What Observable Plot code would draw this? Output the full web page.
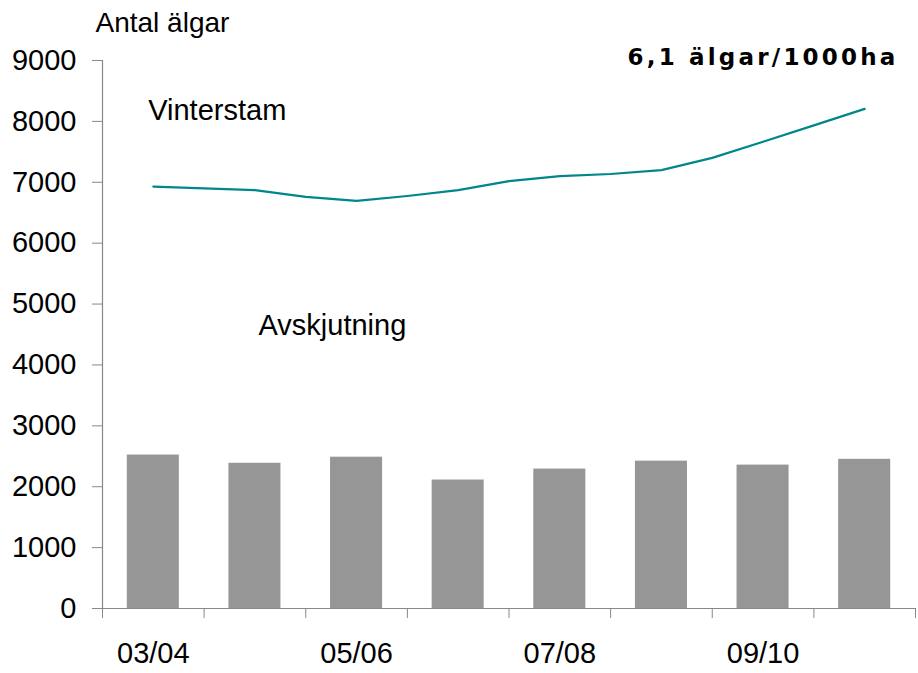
<!DOCTYPE html>
<html>
<head>
<meta charset="utf-8">
<script src="https://cdn.jsdelivr.net/npm/d3@7"></script>
<script src="https://cdn.jsdelivr.net/npm/@observablehq/plot@0.6"></script>
<style>
  html, body { margin: 0; padding: 0; background: #fff; }
  svg { display: block; }
</style>
</head>
<body>
<div id="chart"></div>
<script>
// Seasons (categories)
const seasons = ["03/04", "04/05", "05/06", "06/07", "07/08", "08/09", "09/10", "10/11"];
// Avskjutning (harvest) per season
const avskjutning = [2520, 2385, 2485, 2110, 2290, 2420, 2355, 2450];
// Vinterstam (winter population), read at half-season steps
const vinterstamPos = [0, 0.5, 1, 1.5, 2, 2.5, 3, 3.5, 4, 4.5, 5, 5.5, 6, 6.5, 7];
const vinterstam   = [6930, 6900, 6870, 6760, 6695, 6775, 6870, 7020, 7100, 7136, 7200, 7400, 7665, 7935, 8205];
// Y-axis ticks
const yTicks = [0, 1000, 2000, 3000, 4000, 5000, 6000, 7000, 8000, 9000];
// X-axis labelled seasons (every other)
const labelledIdx = [0, 2, 4, 6];

const bars = seasons.map((s, i) => ({i, s, v: avskjutning[i]}));
const line = vinterstamPos.map((p, k) => ({p, v: vinterstam[k]}));
const boundaries = d3.range(seasons.length + 1).map(k => k - 0.5);
const halfBar = 0.256;

const font = "'Liberation Sans', Arial, sans-serif";
const fs = 29;
const density = "6,1 älgar/1000ha";

const chart = Plot.plot({
  width: 918,
  height: 673,
  marginLeft: 102,
  marginRight: 3,
  marginTop: 60,
  marginBottom: 65,
  style: {fontFamily: font, fontSize: fs + "px", background: "white", color: "black"},
  x: {type: "linear", domain: [-0.5, seasons.length - 0.5]},
  y: {domain: [0, 9000]},
  marks: [
    Plot.rectY(bars, {x1: d => d.i - halfBar, x2: d => d.i + halfBar, y1: 0, y2: "v", fill: "#969696"}),
    Plot.line(line, {x: "p", y: "v", stroke: "#00868B", strokeWidth: 2.2}),
    Plot.ruleX([-0.5], {stroke: "#888", strokeWidth: 1.2}),
    Plot.ruleY([0], {stroke: "#888", strokeWidth: 1.2}),
    Plot.axisY({ticks: yTicks, tickSize: 10, tickPadding: 16, stroke: "#888", fill: "black", fontSize: fs, label: null, tickFormat: d => String(d)}),
    Plot.axisX({ticks: boundaries, tickSize: 10, tickFormat: () => "", stroke: "#888", label: null}),
    Plot.axisX({ticks: labelledIdx, tickSize: 0, tickPadding: 34, tickFormat: i => seasons[i], fill: "black", fontSize: fs, label: null}),
    Plot.text(["Vinterstam"], {x: -0.05, y: 8180, text: d => d, textAnchor: "start", fontSize: fs, fill: "black"}),
    Plot.text(["Avskjutning"], {x: 1.035, y: 4640, text: d => d, textAnchor: "start", fontSize: fs, fill: "black"}),
    Plot.text(["Antal älgar"], {frameAnchor: "top-left", dx: -7, dy: -48, text: d => d, textAnchor: "start", fontSize: 28, fill: "black"}),
    Plot.text([density], {frameAnchor: "top-right", dx: -17, dy: -12, text: d => d, textAnchor: "end", fontSize: 23, fontWeight: "bold", fontFamily: "'DejaVu Sans', Verdana, sans-serif", fill: "black"})
  ]
});
d3.select(chart).selectAll("text").filter(function() { return this.textContent === density; })
  .attr("letter-spacing", "3.2px");
document.getElementById("chart").appendChild(chart);
</script>
</body>
</html>
